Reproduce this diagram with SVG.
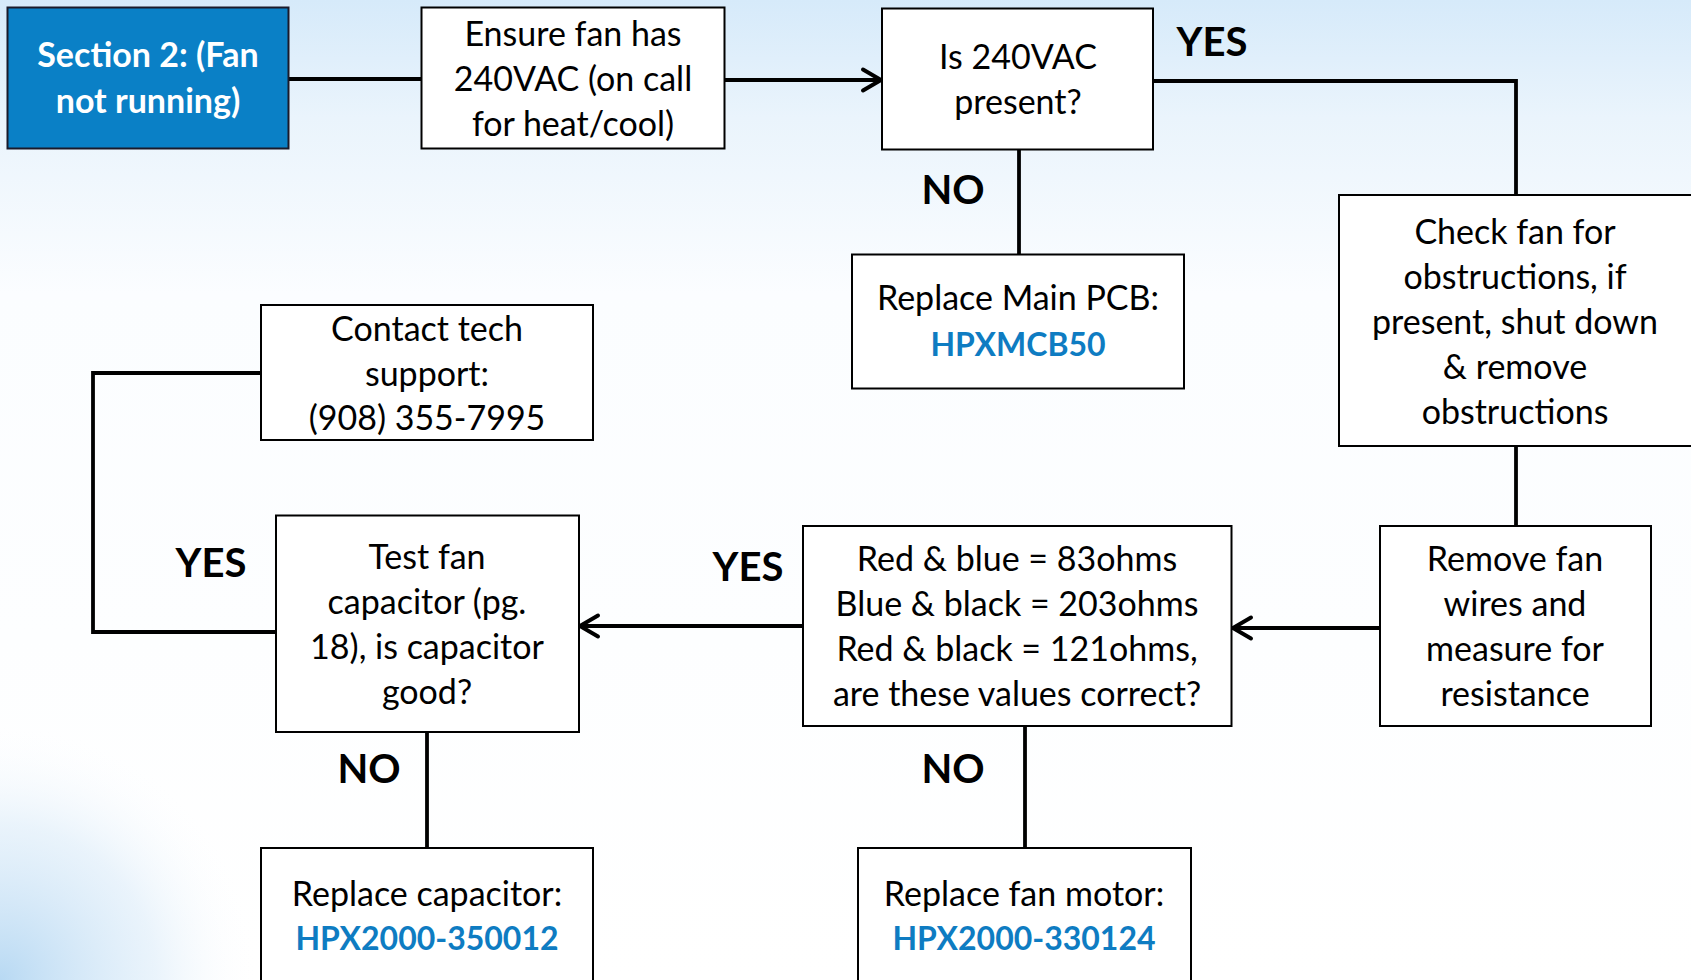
<svg xmlns="http://www.w3.org/2000/svg" width="1691" height="980" viewBox="0 0 1691 980">
<defs>
<linearGradient id="bg" x1="0" y1="0" x2="0" y2="1">
<stop offset="0" stop-color="#d6eafa"/>
<stop offset="0.12" stop-color="#eaf4fc"/>
<stop offset="0.3" stop-color="#fbfdff"/>
<stop offset="1" stop-color="#ffffff"/>
</linearGradient>
<radialGradient id="swirl" gradientUnits="userSpaceOnUse" cx="0" cy="980" r="260">
<stop offset="0" stop-color="#b8d9f3"/>
<stop offset="0.6" stop-color="#dcecf9" stop-opacity="0.6"/>
<stop offset="1" stop-color="#ffffff" stop-opacity="0"/>
</radialGradient>
<marker id="arr" viewBox="0 0 28 28" refX="23" refY="14" markerWidth="28" markerHeight="28" markerUnits="userSpaceOnUse" orient="auto">
<path d="M4,3.5 L22,14 L4,24.5" fill="none" stroke="#000" stroke-width="4" stroke-linecap="round" stroke-linejoin="miter"/>
</marker>
<style>
.box{fill:#fff;stroke:#000;stroke-width:2}
.t{font-family:Lato,"Open Sans","Liberation Sans",sans-serif;font-size:34px;fill:#000;text-anchor:middle}
.w{fill:#fff;font-weight:bold}
.b{fill:#0e7cc2;font-weight:bold;font-size:32px}
.lbl{font-family:Lato,"Open Sans","Liberation Sans",sans-serif;font-size:40px;font-weight:bold;fill:#000;text-anchor:middle}
.c{fill:none;stroke:#000;stroke-width:3.8}
</style>
</defs>
<rect width="1691" height="980" fill="url(#bg)"/>
<rect width="1691" height="980" fill="url(#swirl)"/>

<g id="connectors">
<line class="c" x1="289" y1="79" x2="422" y2="79"/>
<line class="c" x1="725" y1="80" x2="882" y2="80" marker-end="url(#arr)"/>
<polyline class="c" points="1153,81 1516,81 1516,195"/>
<line class="c" x1="1019" y1="150" x2="1019" y2="254"/>
<line class="c" x1="1516" y1="446" x2="1516" y2="526"/>
<line class="c" x1="1380" y1="628" x2="1232" y2="628" marker-end="url(#arr)"/>
<line class="c" x1="803" y1="626" x2="579" y2="626" marker-end="url(#arr)"/>
<polyline class="c" points="261,373 93,373 93,632 276,632"/>
<line class="c" x1="427" y1="732" x2="427" y2="848"/>
<line class="c" x1="1025" y1="726" x2="1025" y2="848"/>
</g>

<g id="labels">
<text class="lbl" x="1212" y="56">YES</text>
<text class="lbl" x="953" y="204">NO</text>
<text class="lbl" x="211" y="577">YES</text>
<text class="lbl" x="748" y="581">YES</text>
<text class="lbl" x="369" y="783">NO</text>
<text class="lbl" x="953" y="783">NO</text>
</g>

<g id="section">
<rect x="7.5" y="7.5" width="281" height="141" fill="#0a80c6" stroke="#1a1a2a" stroke-width="2"/>
<text class="t w" x="148" y="67">Section 2: (Fan</text>
<text class="t w" x="148" y="113">not running)</text>
</g>
<g id="ensure">
<rect class="box" x="421.5" y="7.5" width="303" height="141"/>
<text class="t" x="573" y="46">Ensure fan has</text>
<text class="t" x="573" y="91">240VAC (on call</text>
<text class="t" x="573" y="136">for heat/cool)</text>
</g>
<g id="is240">
<rect class="box" x="882" y="8.5" width="271" height="141"/>
<text class="t" x="1018" y="69">Is 240VAC</text>
<text class="t" x="1018" y="114">present?</text>
</g>
<g id="pcb">
<rect class="box" x="852" y="254.5" width="332" height="134"/>
<text class="t" x="1018" y="310">Replace Main PCB:</text>
<text class="t b" x="1018" y="356">HPXMCB50</text>
</g>
<g id="check">
<rect class="box" x="1339" y="195" width="360" height="251"/>
<text class="t" x="1515" y="244">Check fan for</text>
<text class="t" x="1515" y="289">obstructions, if</text>
<text class="t" x="1515" y="334">present, shut down</text>
<text class="t" x="1515" y="379">&amp; remove</text>
<text class="t" x="1515" y="424">obstructions</text>
</g>
<g id="remove">
<rect class="box" x="1380" y="526" width="271" height="200"/>
<text class="t" x="1515" y="571">Remove fan</text>
<text class="t" x="1515" y="616">wires and</text>
<text class="t" x="1515" y="661">measure for</text>
<text class="t" x="1515" y="706">resistance</text>
</g>
<g id="values">
<rect class="box" x="803" y="526" width="428.5" height="200"/>
<text class="t" x="1017" y="571">Red &amp; blue = 83ohms</text>
<text class="t" x="1017" y="616">Blue &amp; black = 203ohms</text>
<text class="t" x="1017" y="661">Red &amp; black = 121ohms,</text>
<text class="t" x="1017" y="706">are these values correct?</text>
</g>
<g id="contact">
<rect class="box" x="261" y="305" width="332" height="135"/>
<text class="t" x="427" y="341">Contact tech</text>
<text class="t" x="427" y="386">support:</text>
<text class="t" x="427" y="430">(908) 355-7995</text>
</g>
<g id="capacitor-test">
<rect class="box" x="276" y="515.5" width="303" height="216.5"/>
<text class="t" x="427" y="569">Test fan</text>
<text class="t" x="427" y="614">capacitor (pg.</text>
<text class="t" x="427" y="659">18), is capacitor</text>
<text class="t" x="427" y="704">good?</text>
</g>
<g id="replace-cap">
<rect class="box" x="261" y="848" width="332" height="150"/>
<text class="t" x="427" y="906">Replace capacitor:</text>
<text class="t b" x="427" y="950">HPX2000-350012</text>
</g>
<g id="replace-motor">
<rect class="box" x="858" y="848" width="333" height="150"/>
<text class="t" x="1024" y="906">Replace fan motor:</text>
<text class="t b" x="1024" y="950">HPX2000-330124</text>
</g>
</svg>
